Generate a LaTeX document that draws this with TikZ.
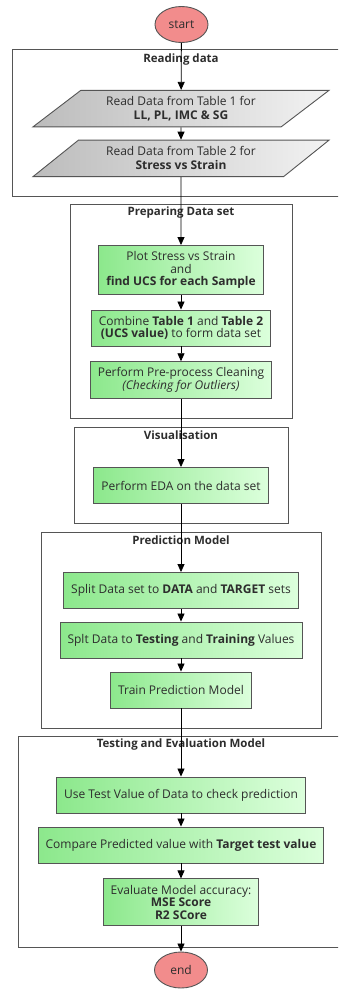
\documentclass[tikz,border=0pt]{standalone}
\usepackage{fontspec}
\setmainfont{Open Sans}
\usetikzlibrary{arrows.meta,shapes.geometric}
\definecolor{txtclr}{RGB}{45,45,45}
\definecolor{lineclr}{RGB}{85,85,85}
\definecolor{procl}{RGB}{140,232,140}
\definecolor{procr}{RGB}{220,255,220}
\definecolor{iol}{RGB}{188,188,188}
\definecolor{ior}{RGB}{242,242,242}
\definecolor{termclr}{RGB}{242,140,140}
\tikzset{
  sect/.style={draw=lineclr,line width=0.9pt,fill=white},
  secttitle/.style={font=\fontsize{11.5}{12}\selectfont\bfseries,text=txtclr,inner sep=0pt},
  proc/.style={rectangle,draw=lineclr,line width=0.9pt,left color=procl,right color=procr,
               text=txtclr,align=center,font=\fontsize{12}{12.5}\selectfont,
               minimum height=36pt,inner xsep=7.5pt,inner ysep=6pt},
  rdata/.style={trapezium,trapezium left angle=31,trapezium right angle=149,
                trapezium stretches body,draw=lineclr,line width=0.9pt,
                left color=iol,right color=ior,text=txtclr,align=center,
                font=\fontsize{12}{14}\selectfont,minimum width=296pt,minimum height=36.5pt,
                inner sep=2pt},
  term/.style={ellipse,draw=lineclr,line width=0.9pt,fill=termclr,text=txtclr,
               minimum width=53pt,minimum height=36pt,inner sep=0pt,
               font=\fontsize{12}{12}\selectfont},
  edge/.style={-{Triangle[length=8pt,width=7pt]},line width=0.8pt,black},
}

\begin{document}
\begin{tikzpicture}[x=1pt, y=-1pt]
\clip (0,0) rectangle (338,990);
\fill[white] (0,0) rectangle (338,990);

% ── section frames
\draw[sect] (12,49) rectangle (345,196);
\draw[sect] (70,204) rectangle (292,418);
\draw[sect] (74,427) rectangle (288,523);
\draw[sect] (41,532) rectangle (321,728);
\draw[sect] (18,736) rectangle (345,947);

\node[secttitle] (t1) at (181,60) {Reading data};
\node[secttitle] (t2) at (181,213) {Preparing Data set};
\node[secttitle] (t3) at (181,435) {Visualisation};
\node[secttitle] (t4) at (181,540) {Prediction Model};
\node[secttitle] (t5) at (181,745) {Testing and Evaluation Model};

% ── terminals
\node[term] (start) at (181.5,24.5) {start};
\node[term] (end) at (181,970) {end};

% ── reading data
\node[rdata] (rd1) at (181,108.6) {Read Data from Table 1 for\\\textbf{LL, PL, IMC \& SG}};
\node[rdata] (rd2) at (181,158.4) {Read Data from Table 2 for\\\textbf{Stress vs Strain}};

% ── preparing data set
\node[proc] (ps1) at (181,270) {Plot Stress vs Strain\\and\\\textbf{find UCS for each Sample}};
\node[proc] (ps2) at (181,328) {Combine \textbf{Table 1} and \textbf{Table 2}\\\textbf{(UCS value)} to form data set};
\node[proc] (ps3) at (181,380) {Perform Pre-process Cleaning\\\textit{(Checking for Outliers)}};

% ── visualisation
\node[proc] (vs1) at (181,485.5) {Perform EDA on the data set};

% ── prediction model
\node[proc] (pm1) at (181,590.5) {Split Data set to \textbf{DATA} and \textbf{TARGET} sets};
\node[proc] (pm2) at (181,640) {Splt Data to \textbf{Testing} and \textbf{Training} Values};
\node[proc] (pm3) at (181,690) {Train Prediction Model};

% ── testing and evaluation
\node[proc] (te1) at (181,795) {Use Test Value of Data to check prediction};
\node[proc] (te2) at (181,845) {Compare Predicted value with \textbf{Target test value}};
\node[proc] (te3) at (181,902) {Evaluate Model accuracy:\\\textbf{MSE Score}\\\textbf{R2 SCore}};

% ── connectors
\draw[edge] (start) -- (rd1);
\draw[edge] (rd1) -- (rd2);
\draw[edge] (rd2) -- (ps1);
\draw[edge] (ps1) -- (ps2);
\draw[edge] (ps2) -- (ps3);
\draw[edge] (ps3) -- (vs1);
\draw[edge] (vs1) -- (pm1);
\draw[edge] (pm1) -- (pm2);
\draw[edge] (pm2) -- (pm3);
\draw[edge] (pm3) -- (te1);
\draw[edge] (te1) -- (te2);
\draw[edge] (te2) -- (te3);
\draw[edge] (te3) -- (end);

\end{tikzpicture}
\end{document}
